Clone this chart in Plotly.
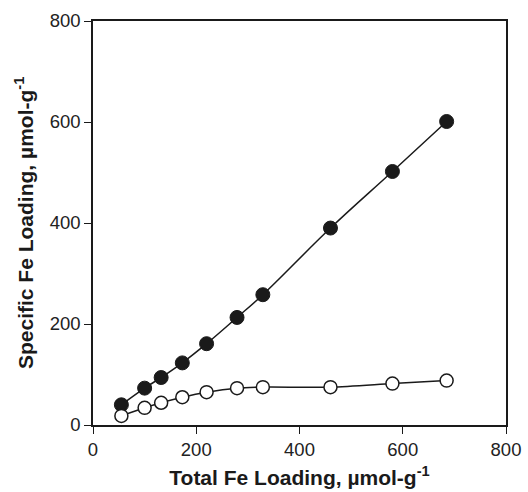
import plotly.graph_objects as go

# Total Fe loading (µmol/g) and the resulting specific Fe loading
total_fe = [55, 100, 132, 173, 220, 279, 329, 460, 580, 685]
specific_filled = [40, 73, 94, 123, 161, 213, 258, 390, 502, 601]
specific_open = [18, 34, 44, 55, 65, 73, 75, 75, 82, 88]

x_ticks = [0, 200, 400, 600, 800]
y_ticks = [0, 200, 400, 600, 800]

FONT = "Arial, 'Liberation Sans', sans-serif"
INK = "#1a1a1a"

fig = go.Figure()

fig.add_trace(go.Scatter(
    x=total_fe, y=specific_filled,
    mode="lines+markers",
    line=dict(color=INK, width=1.5, shape="spline", smoothing=1.2),
    marker=dict(symbol="circle", size=14, color=INK,
                line=dict(color=INK, width=1)),
    showlegend=False,
))

fig.add_trace(go.Scatter(
    x=total_fe, y=specific_open,
    mode="lines+markers",
    line=dict(color=INK, width=1.5, shape="spline", smoothing=0.8),
    marker=dict(symbol="circle", size=13, color="white",
                line=dict(color=INK, width=1.5)),
    showlegend=False,
))

axis_common = dict(
    showgrid=False, zeroline=False, automargin=False,
    showline=True, linecolor=INK, linewidth=1.5, mirror=True,
    ticks="outside", ticklen=7, tickwidth=1.2, tickcolor=INK,
    tickfont=dict(family=FONT, size=18.5, color="#222"),
)

fig.update_xaxes(
    range=[0, 800], tickvals=x_ticks,
    title=dict(text="<b>Total Fe Loading, µmol-g<sup>-1</sup></b>",
               font=dict(family=FONT, size=21, color=INK), standoff=11),
    **axis_common,
)
fig.update_yaxes(range=[0, 800], tickvals=y_ticks, **axis_common)

# Vertical y-axis title placed left of the tick labels
fig.add_annotation(
    text="<b>Specific Fe Loading, µmol-g<sup>-1</sup></b>",
    xref="paper", yref="paper", x=0, y=0.5,
    xanchor="center", yanchor="middle", xshift=-69,
    textangle=-90, showarrow=False,
    font=dict(family=FONT, size=21, color=INK),
)

fig.update_layout(
    width=528, height=492,
    margin=dict(l=93, r=22, t=21, b=67),
    paper_bgcolor="white", plot_bgcolor="white",
)

fig.write_html("out.html")
